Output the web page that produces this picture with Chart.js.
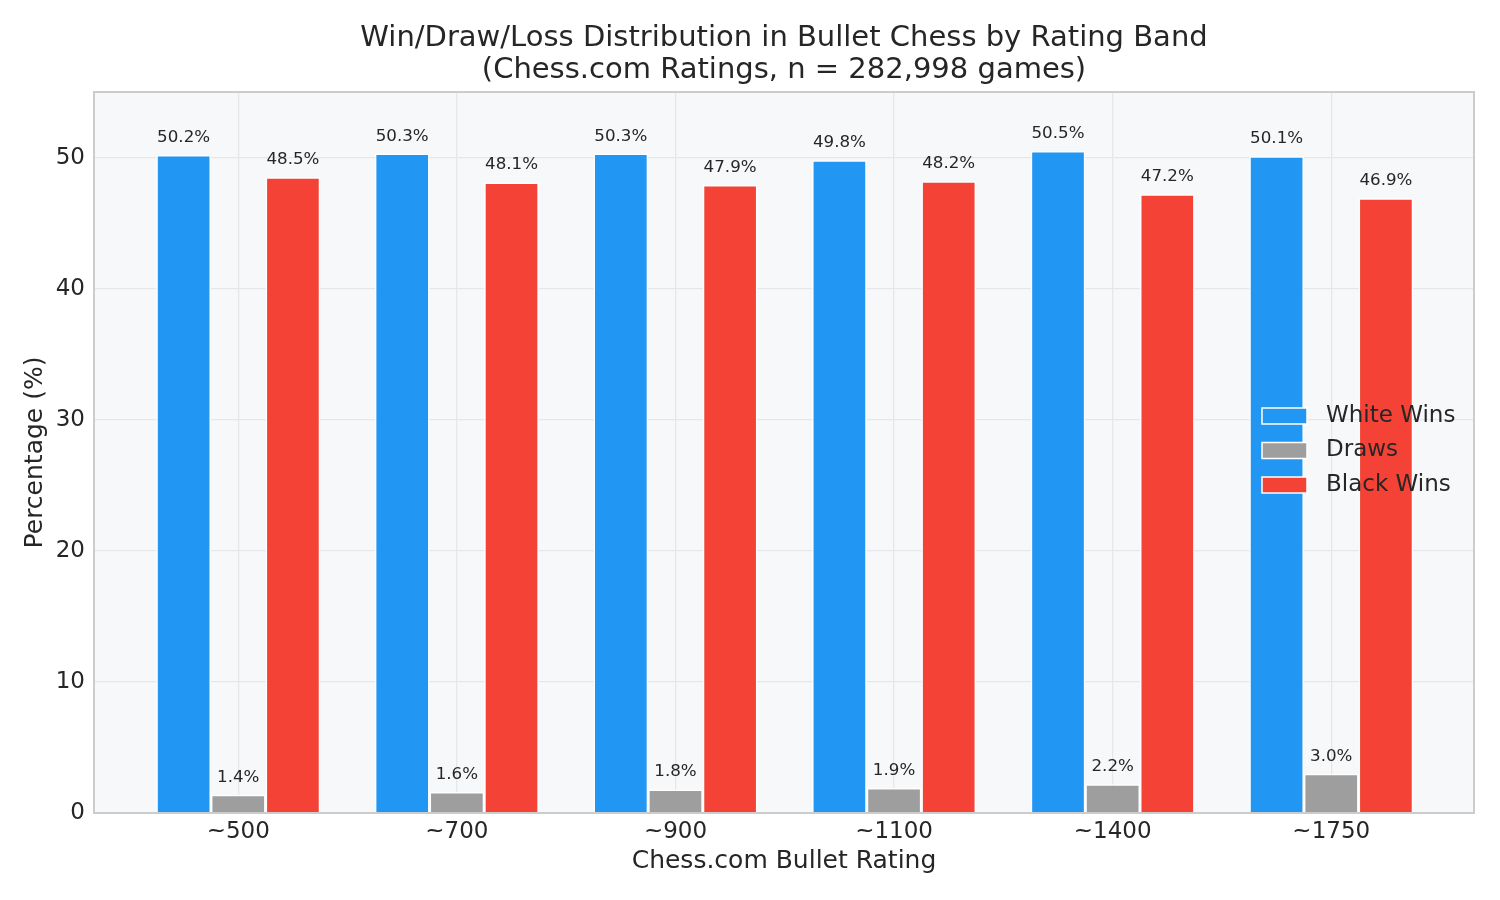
<!DOCTYPE html>
<html>
<head>
<meta charset="utf-8">
<script src="https://cdn.jsdelivr.net/npm/chart.js@4.4.1/dist/chart.umd.min.js"></script>
<style>
  html, body { margin: 0; padding: 0; background: #ffffff; }
  #wrap { width: 1500px; height: 900px; }
</style>
</head>
<body>
<div id="wrap"><canvas id="c" width="1500" height="900"></canvas></div>
<script>
const categories = ['~500', '~700', '~900', '~1100', '~1400', '~1750'];
const whiteWins = [50.2, 50.3, 50.3, 49.8, 50.5, 50.1];
const draws = [1.4, 1.6, 1.8, 1.9, 2.2, 3.0];
const blackWins = [48.5, 48.1, 47.9, 48.2, 47.2, 46.9];
const seriesNames = ['White Wins', 'Draws', 'Black Wins'];
const titleLines = ['Win/Draw/Loss Distribution in Bullet Chess by Rating Band', '(Chess.com Ratings, n = 282,998 games)'];
const yTicks = [0, 10, 20, 30, 40, 50];

const FONT = "'DejaVu Sans', sans-serif";
const TEXT = '#262626';
const colors = ['#2196F3', '#9E9E9E', '#F44336'];

function toPoints(arr) { return arr.map((v, i) => ({ x: i, y: v })); }

const bgPlugin = {
  id: 'plotBg',
  beforeDraw(chart) {
    const { ctx, chartArea: a } = chart;
    ctx.save();
    ctx.fillStyle = '#f7f8fa';
    ctx.fillRect(a.left, a.top, a.right - a.left, a.bottom - a.top);
    ctx.restore();
  },
  afterDatasetsDraw(chart) {
    const { ctx, chartArea: a } = chart;
    ctx.save();
    // frame
    ctx.strokeStyle = '#cccccc';
    ctx.lineWidth = 2;
    ctx.strokeRect(a.left, a.top, a.right - a.left, a.bottom - a.top);
    // bar labels
    ctx.fillStyle = TEXT;
    ctx.font = '16.7px ' + FONT;
    ctx.textAlign = 'center';
    ctx.textBaseline = 'alphabetic';
    chart.data.datasets.forEach((ds, di) => {
      const meta = chart.getDatasetMeta(di);
      meta.data.forEach((bar, i) => {
        const v = ds.data[i].y;
        ctx.fillText(v.toFixed(1) + '%', bar.x, bar.y - 13);
      });
    });
    // title
    ctx.font = '29px ' + FONT;
    ctx.textBaseline = 'middle';
    const cx = (a.left + a.right) / 2;
    ctx.fillText(titleLines[0], cx, 38);
    ctx.fillText(titleLines[1], cx, 70);
    // legend
    ctx.font = '23px ' + FONT;
    ctx.textAlign = 'left';
    chart.data.datasets.forEach((ds, di) => {
      const yc = 416 + di * 34.5;
      ctx.fillStyle = ds.backgroundColor;
      ctx.fillRect(1262, yc - 8, 45, 16);
      ctx.strokeStyle = '#ffffff';
      ctx.lineWidth = 1.5;
      ctx.strokeRect(1262, yc - 8, 45, 16);
      ctx.fillStyle = TEXT;
      ctx.fillText(ds.label, 1326, yc);
    });
    ctx.restore();
  }
};

const mk = (label, arr, color) => ({
  label: label,
  data: toPoints(arr),
  backgroundColor: color,
  borderColor: '#ffffff',
  borderWidth: 1.5,
  categoryPercentage: 0.75,
  barPercentage: 1.0
});

new Chart(document.getElementById('c'), {
  type: 'bar',
  data: {
    datasets: [
      mk(seriesNames[0], whiteWins, colors[0]),
      mk(seriesNames[1], draws, colors[1]),
      mk(seriesNames[2], blackWins, colors[2])
    ]
  },
  options: {
    responsive: false,
    devicePixelRatio: 1,
    animation: false,
    layout: { padding: { left: 0, right: 26, top: 92, bottom: 0 } },
    plugins: {
      legend: { display: false },
      title: { display: false },
      tooltip: { enabled: false }
    },
    scales: {
      x: {
        type: 'linear',
        min: -0.66,
        max: 5.653,
        offset: false,
        grid: { offset: false, color: '#e5e7ea', lineWidth: 1.3, drawTicks: false },
        border: { display: false },
        afterBuildTicks(s) { s.ticks = categories.map((c, i) => ({ value: i })); },
        afterFit(s) { s.height = 87; },
        ticks: {
          padding: 5,
          color: TEXT,
          font: { family: FONT, size: 23 },
          maxRotation: 0,
          autoSkip: false,
          callback: (v) => categories[v]
        },
        title: {
          display: true,
          text: 'Chess.com Bullet Rating',
          color: TEXT,
          font: { family: FONT, size: 25 },
          padding: { top: 0, bottom: 24 }
        }
      },
      y: {
        min: 0,
        max: 55,
        grid: { color: '#e5e7ea', lineWidth: 1.3, drawTicks: false },
        border: { display: false },
        afterBuildTicks(s) { s.ticks = yTicks.map(v => ({ value: v })); },
        afterFit(s) { s.width = 94; },
        ticks: {
          padding: 9,
          color: TEXT,
          font: { family: FONT, size: 23 }
        },
        title: {
          display: true,
          text: 'Percentage (%)',
          color: TEXT,
          font: { family: FONT, size: 25 },
          padding: { top: 20, bottom: 0 }
        }
      }
    }
  },
  plugins: [bgPlugin]
});
</script>
</body>
</html>
